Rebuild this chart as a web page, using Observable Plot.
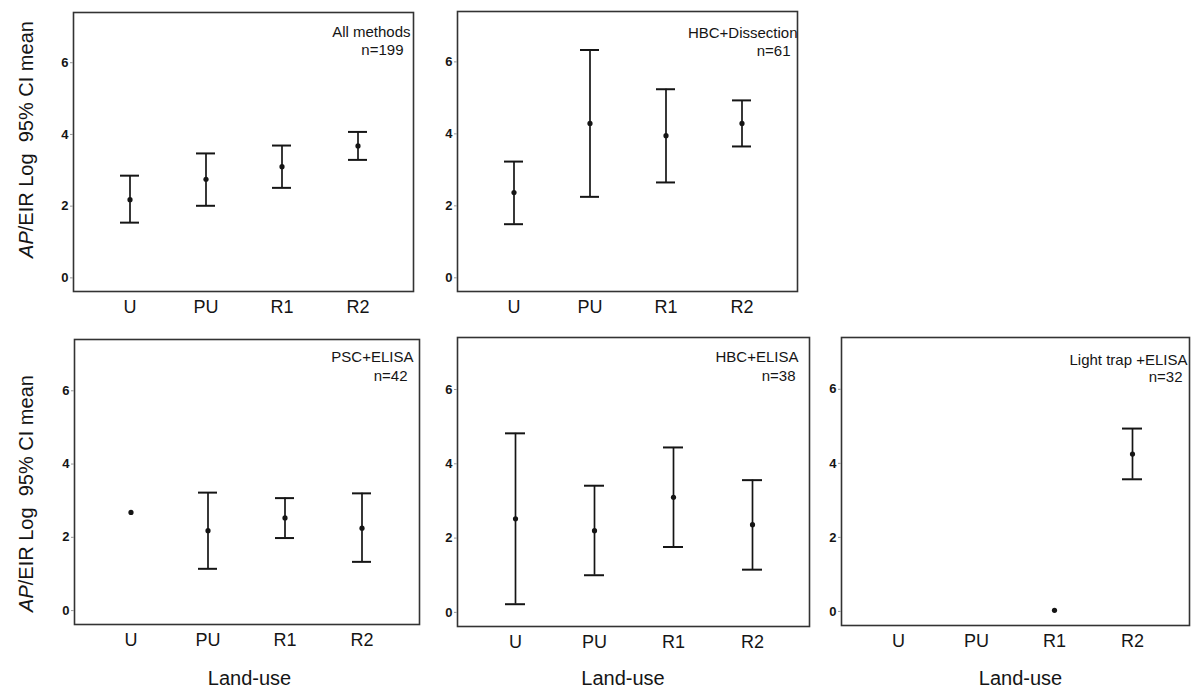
<!DOCTYPE html>
<html>
<head>
<meta charset="utf-8">
<script src="https://cdn.jsdelivr.net/npm/d3@7"></script>
<script src="https://cdn.jsdelivr.net/npm/@observablehq/plot@0.6"></script>
<style>
  body { margin: 0; background: #fff; }
  #chart { position: relative; width: 1200px; height: 699px; overflow: hidden; font-family: "Liberation Sans", Arial, sans-serif; }
  #chart > div { position: absolute; }
  #chart g[aria-label="y-axis tick label"] text { font-weight: bold; }
</style>
</head>
<body>
<div id="chart"></div>
<script>
// ---- Data ----
const landUse = ["U", "PU", "R1", "R2"];
const methodTitles = ["All methods", "HBC+Dissection", "PSC+ELISA", "HBC+ELISA", "Light trap +ELISA"];
const sampleSizes = ["n=199", "n=61", "n=42", "n=38", "n=32"];

const meanAll  = [2.18, 2.75, 3.10, 3.68];
const lowerAll = [1.54, 2.01, 2.51, 3.29];
const upperAll = [2.85, 3.47, 3.69, 4.07];

const meanHbcDissection  = [2.37, 4.29, 3.95, 4.29];
const lowerHbcDissection = [1.49, 2.25, 2.65, 3.65];
const upperHbcDissection = [3.23, 6.33, 5.24, 4.93];

const meanPscElisa  = [2.68, 2.18, 2.53, 2.25];
const lowerPscElisa = [null, 1.14, 1.98, 1.33];
const upperPscElisa = [null, 3.22, 3.07, 3.20];

const meanHbcElisa  = [2.52, 2.20, 3.10, 2.36];
const lowerHbcElisa = [0.22, 1.00, 1.76, 1.15];
const upperHbcElisa = [4.82, 3.41, 4.44, 3.56];

const meanLightTrapElisa  = [null, null, 0.03, 4.25];
const lowerLightTrapElisa = [null, null, null, 3.57];
const upperLightTrapElisa = [null, null, null, 4.94];

const yTicks = [0, 2, 4, 6];
const yDomain = [-0.38, 7.4];
const yLabelPrefix = "AP";
const yLabelRest = "/EIR Log  95% CI mean";
const xLabel = "Land-use";

const seriesMeans  = [meanAll, meanHbcDissection, meanPscElisa, meanHbcElisa, meanLightTrapElisa];
const seriesLowers = [lowerAll, lowerHbcDissection, lowerPscElisa, lowerHbcElisa, lowerLightTrapElisa];
const seriesUppers = [upperAll, upperHbcDissection, upperPscElisa, upperHbcElisa, upperLightTrapElisa];

// ---- Layout (positions / styles) ----
const layout = [
  {left: 0,   top: 0,   width: 420, height: 330, mt: 12, mr: 7,  mb: 39, ml: 73, tDx: -3,  tDy: 20, nDx: -10, nDy: 38, yLab: true, yLabDy: -12.5},
  {left: 420, top: 0,   width: 380, height: 330, mt: 11, mr: 3,  mb: 39, ml: 37, tDx: 0,   tDy: 22, nDx: -7,  nDy: 40},
  {left: 0,   top: 330, width: 420, height: 369, mt: 9,  mr: 1,  mb: 75, ml: 74, tDx: -6,  tDy: 18, nDx: -12, nDy: 37, yLab: true, yLabDy: 11.5, xLab: true, xLabDx: 2.5},
  {left: 420, top: 330, width: 400, height: 369, mt: 7,  mr: 11, mb: 73, ml: 37, tDx: -11, tDy: 20, nDx: -14, nDy: 39, xLab: true, xLabDx: -10.5},
  {left: 820, top: 330, width: 380, height: 369, mt: 7,  mr: 11, mb: 74, ml: 21, tDx: -2,  tDy: 23, nDx: -7,  nDy: 40, xLab: true, xLabDx: 5}
];
const yLabelCenterX = 26;
const xLabelCenterY = 348;
const ink = "#151515";

const chart = document.getElementById("chart");

layout.forEach((L, p) => {
  const rows = landUse.map((c, i) => ({
    landUse: c,
    mean: seriesMeans[p][i],
    lower: seriesLowers[p][i],
    upper: seriesUppers[p][i]
  }));
  const withCI = rows.filter(d => d.lower != null && d.upper != null);
  const withMean = rows.filter(d => d.mean != null);

  const marks = [
    Plot.frame({stroke: "#333", strokeWidth: 1.6}),
    Plot.axisY({ticks: yTicks, tickSize: 3, tickPadding: 2, fontSize: 13, fontWeight: "bold", stroke: "#999", label: null}),
    Plot.axisX({tickSize: 0, tickPadding: 9, fontSize: 18, label: null}),
    Plot.ruleX(withCI, {x: "landUse", y1: "lower", y2: "upper", stroke: ink, strokeWidth: 1.7}),
    Plot.tickY(withCI, {x: "landUse", y: "lower", stroke: ink, strokeWidth: 2}),
    Plot.tickY(withCI, {x: "landUse", y: "upper", stroke: ink, strokeWidth: 2}),
    Plot.dot(withMean, {x: "landUse", y: "mean", r: 2.6, fill: ink, stroke: null}),
    Plot.text([methodTitles[p]], {frameAnchor: "top-right", textAnchor: "end", lineAnchor: "middle", dx: L.tDx, dy: L.tDy, fontSize: 15, fill: ink}),
    Plot.text([sampleSizes[p]], {frameAnchor: "top-right", textAnchor: "end", lineAnchor: "middle", dx: L.nDx, dy: L.nDy, fontSize: 15, fill: ink})
  ];
  if (L.yLab) {
    marks.push(Plot.text([yLabelPrefix + yLabelRest], {
      frameAnchor: "left", rotate: -90, textAnchor: "middle", lineAnchor: "middle",
      dx: yLabelCenterX - L.ml, dy: L.yLabDy, fontSize: 20, fill: ink
    }));
  }
  if (L.xLab) {
    marks.push(Plot.text([xLabel], {
      frameAnchor: "bottom", textAnchor: "middle", lineAnchor: "middle",
      dx: L.xLabDx, dy: xLabelCenterY - (L.height - L.mb), fontSize: 20, fill: ink
    }));
  }

  const svg = Plot.plot({
    width: L.width,
    height: L.height,
    marginTop: L.mt,
    marginRight: L.mr,
    marginBottom: L.mb,
    marginLeft: L.ml,
    x: {type: "band", domain: landUse, paddingInner: 0.75, paddingOuter: 0.6, align: 0.5},
    y: {domain: yDomain},
    style: {fontFamily: "'Liberation Sans', Arial, sans-serif", color: ink, background: "transparent", overflow: "visible"},
    marks
  });

  // italicise "AP" in the y-axis title
  svg.querySelectorAll("text").forEach(t => {
    if (t.textContent === yLabelPrefix + yLabelRest) {
      while (t.firstChild) t.removeChild(t.firstChild);
      const ns = "http://www.w3.org/2000/svg";
      const a = document.createElementNS(ns, "tspan");
      a.setAttribute("font-style", "italic");
      a.textContent = yLabelPrefix;
      const b = document.createElementNS(ns, "tspan");
      b.textContent = yLabelRest;
      t.appendChild(a); t.appendChild(b);
      t.style.whiteSpace = "pre";
    }
  });

  const holder = document.createElement("div");
  holder.style.left = L.left + "px";
  holder.style.top = L.top + "px";
  holder.appendChild(svg);
  chart.appendChild(holder);
});
</script>
</body>
</html>
